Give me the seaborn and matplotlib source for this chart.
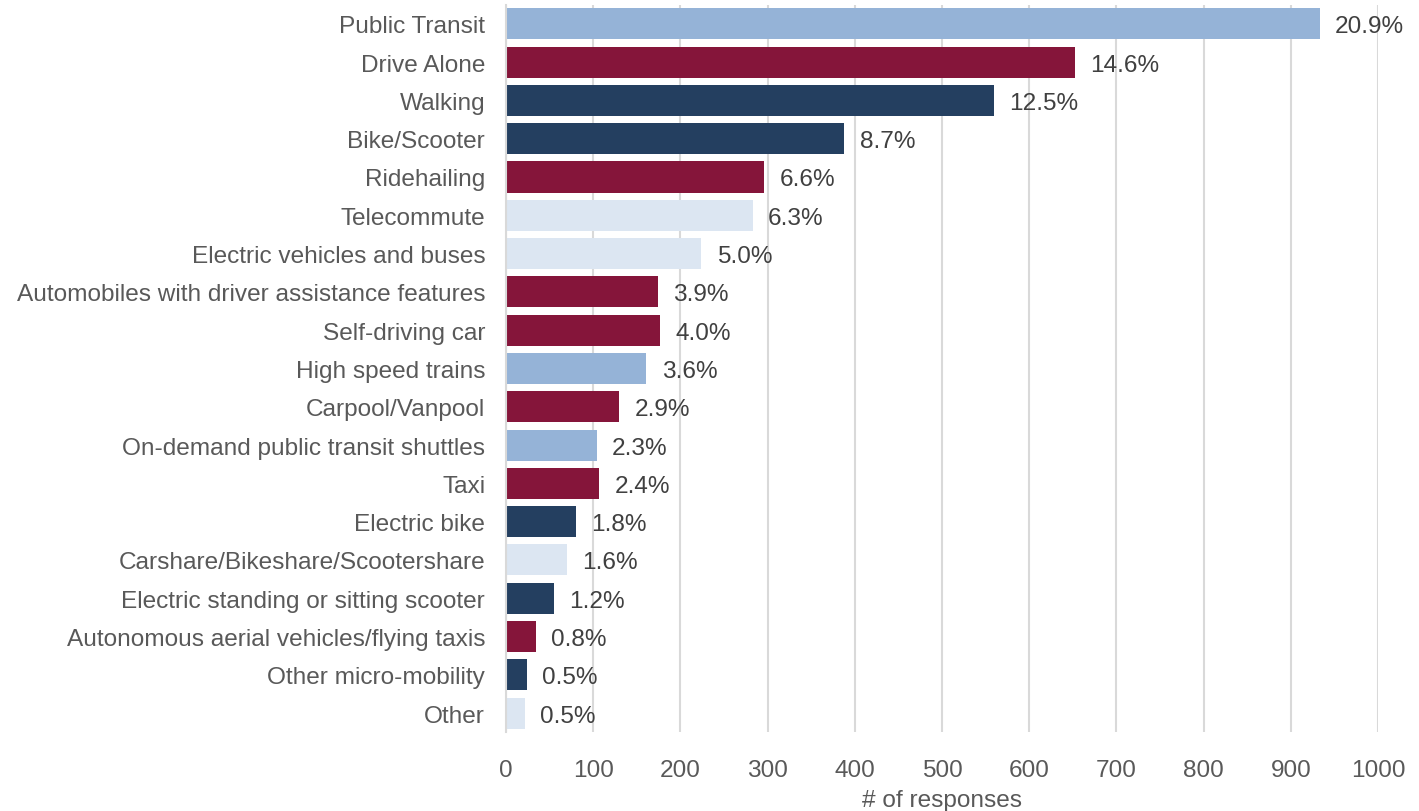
import matplotlib
matplotlib.use("Agg")
import matplotlib.pyplot as plt
import seaborn as sns
import pandas as pd

categories = [
    "Public Transit", "Drive Alone", "Walking", "Bike/Scooter", "Ridehailing",
    "Telecommute", "Electric vehicles and buses",
    "Automobiles with driver assistance features", "Self-driving car",
    "High speed trains", "Carpool/Vanpool", "On-demand public transit shuttles",
    "Taxi", "Electric bike", "Carshare/Bikeshare/Scootershare",
    "Electric standing or sitting scooter",
    "Autonomous aerial vehicles/flying taxis", "Other micro-mobility", "Other",
]
responses = [933, 652, 560, 388, 296, 283, 224, 174, 177, 161, 130, 104, 107,
             80, 70, 55, 34, 24, 22]
percent_labels = ["20.9%", "14.6%", "12.5%", "8.7%", "6.6%", "6.3%", "5.0%",
                  "3.9%", "4.0%", "3.6%", "2.9%", "2.3%", "2.4%", "1.8%",
                  "1.6%", "1.2%", "0.8%", "0.5%", "0.5%"]
groups = ["transit", "car", "active", "active", "car", "other", "other", "car",
          "car", "transit", "car", "transit", "car", "active", "other",
          "active", "car", "active", "other"]

group_colors = {
    "transit": "#95B3D7",
    "car": "#85153A",
    "active": "#243F60",
    "other": "#DCE6F2",
}

df = pd.DataFrame({"mode": categories, "responses": responses, "group": groups})

sns.set_theme(style="white")
plt.rcParams["font.family"] = ["Liberation Sans", "DejaVu Sans"]
text_color = "#595959"
fs = 17.6

fig = plt.figure(figsize=(14.19, 8.12), dpi=100)
ax = fig.add_axes([0.3566, 0.097, 0.6145, 0.896])

sns.barplot(data=df, x="responses", y="mode", hue="group", palette=group_colors,
            dodge=False, legend=False, width=0.81, saturation=1, linewidth=0,
            ax=ax, order=categories)

# percentage labels at the end of each bar
for container in ax.containers:
    labels = []
    for bar in container:
        row = int(round(bar.get_y() + bar.get_height() / 2))
        labels.append(percent_labels[row])
    texts = ax.bar_label(container, labels=labels, padding=11, fontsize=fs,
                         color="#404040")
    for t in texts:
        t.set_verticalalignment("center_baseline")

ax.set_xlim(0, 1000)
ax.set_ylim(18.5, -0.5)
ax.set_xticks(range(0, 1001, 100))
ax.xaxis.grid(True, color="#D9D9D9", linewidth=1.5)
ax.set_axisbelow(True)
for side in ["top", "right", "bottom"]:
    ax.spines[side].set_visible(False)
ax.spines["left"].set_color("#D9D9D9")
ax.spines["left"].set_linewidth(1.5)

ax.tick_params(axis="y", length=0, labelsize=fs, colors=text_color, pad=15)
ax.tick_params(axis="x", length=0, labelsize=fs, colors=text_color, pad=19)
ax.set_ylabel("")
ax.set_xlabel("# of responses", fontsize=fs, color=text_color, labelpad=6)

fig.savefig("out.png", dpi=100)
